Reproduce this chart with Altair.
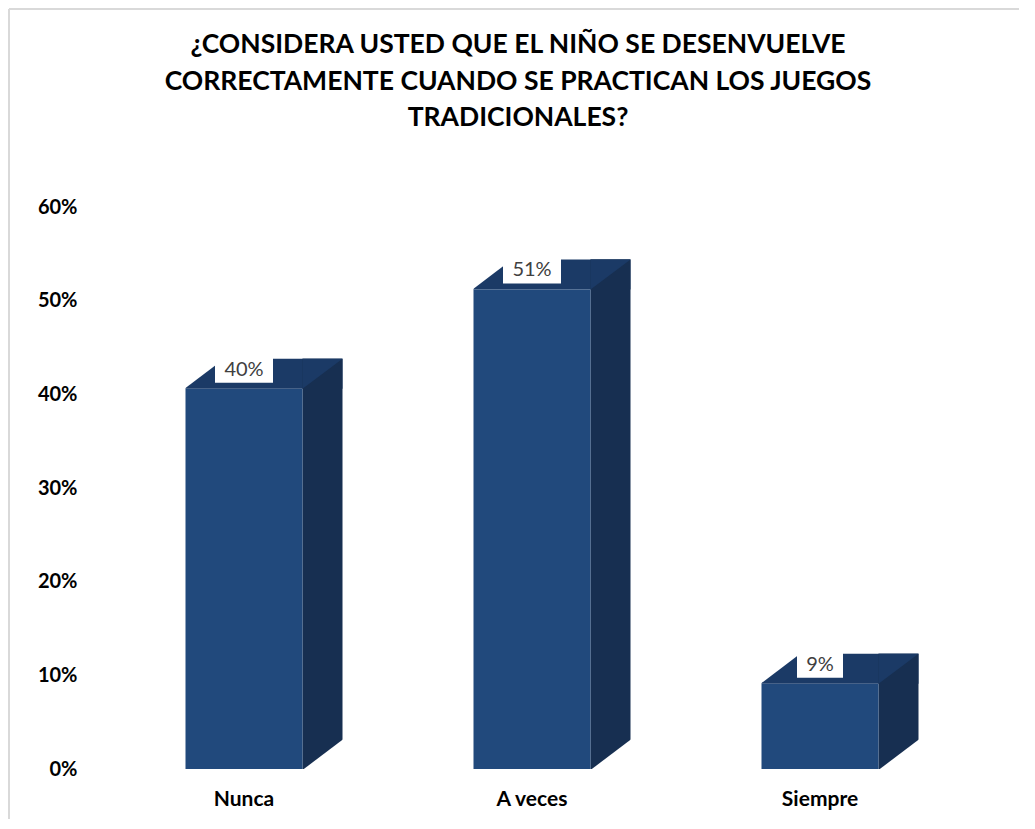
import altair as alt
import pandas as pd

# ---- data ----
categories = ["Nunca", "A veces", "Siempre"]
values = [0.406, 0.512, 0.091]
labels = ["40%", "51%", "9%"]
y_ticks = [0, 0.1, 0.2, 0.3, 0.4, 0.5, 0.6]
title_lines = [
    "¿CONSIDERA USTED QUE EL NIÑO SE DESENVUELVE",
    "CORRECTAMENTE CUANDO SE PRACTICAN LOS JUEGOS",
    "TRADICIONALES?",
]

df = pd.DataFrame({"cat": categories, "v": values, "label": labels})

# ---- style ----
FRONT = "#21497C"
TOP = "#1B3A66"
SIDE = "#172F51"
BAR_W = 117
DX = 40   # depth, horizontal px
DY = 30   # depth, vertical px
HW = BAR_W / 2
FONT = "Lato"

x_enc = alt.X(
    "cat:N", sort=categories,
    scale=alt.Scale(paddingInner=0, paddingOuter=0),
    axis=alt.Axis(title=None, labelAngle=0, labelFont=FONT, labelFontSize=21,
                  labelFontWeight="bold", labelColor="black", labelPadding=19,
                  domain=False, ticks=False, grid=False),
)
y_enc = alt.Y(
    "v:Q", scale=alt.Scale(domain=[0, 0.6], nice=False),
    axis=alt.Axis(title=None, values=y_ticks, format=".0%", labelFont=FONT,
                  labelFontSize=20, labelFontWeight="bold", labelColor="black",
                  labelPadding=23, domain=False, ticks=False, grid=False),
)

base = alt.Chart(df).encode(x=x_enc, y=y_enc)

# top face (rectangle part)
top_rect = base.mark_bar(color=TOP, width=BAR_W + DX, xOffset=DX / 2,
                         yOffset=-DY, y2Offset=0).encode(y2=alt.Y2("v:Q"))
# side face (rectangle part)
side_rect = base.mark_bar(color=SIDE, width=DX, xOffset=HW + DX / 2,
                          yOffset=-DY).encode(y2=alt.datum(0))
# front face
front = base.mark_bar(color=FRONT, width=BAR_W).encode(y2=alt.datum(0))

def tri(path, color):
    return base.mark_point(shape=path, size=4, filled=True, opacity=1,
                           strokeWidth=0, color=color)

# top-face triangle over the side rectangle
top_tri = tri(f"M{HW},{-DY} L{HW + DX},{-DY} L{HW},0 Z", TOP)
# white cut at the back-left corner of the top face
cut_tl = tri(f"M{-HW - 1},{-DY - 1} L{-HW + DX},{-DY - 1} L{-HW - 1},0 Z", "white")
# white cut at the bottom-right corner of the side face
cut_br = tri(f"M{HW},1 L{HW + DX + 1},{-DY} L{HW + DX + 1},1 Z", "white").encode(
    y=alt.datum(0))

# label boxes
box_long = base.transform_filter("length(datum.label) > 2").mark_bar(
    color="white", width=58, yOffset=-31, y2Offset=-6).encode(y2=alt.Y2("v:Q"))
box_short = base.transform_filter("length(datum.label) <= 2").mark_bar(
    color="white", width=46, yOffset=-31, y2Offset=-6).encode(y2=alt.Y2("v:Q"))
text = base.mark_text(font=FONT, fontSize=20, color="#404040", baseline="middle",
                      dy=-19).encode(text="label:N")

# chart title as a text block
title = alt.Chart(df.head(1)).mark_text(
    font=FONT, fontSize=26.5, fontWeight="bold", color="black",
    align="center", baseline="middle", lineHeight=36.5,
).encode(x=alt.value(418), y=alt.value(-162), text=alt.value(title_lines))

# chart border (top and left edges visible)
border_top = alt.Chart(df.head(1)).mark_rule(color="#D9D9D9", strokeWidth=2).encode(
    x=alt.value(-91), x2=alt.value(1000), y=alt.value(-198))
border_left = alt.Chart(df.head(1)).mark_rule(color="#D9D9D9", strokeWidth=2).encode(
    x=alt.value(-91), y=alt.value(-198), y2=alt.value(700))

chart = alt.layer(
    top_rect, side_rect, front, top_tri, cut_tl, cut_br,
    box_long, box_short, text, title, border_top, border_left,
).properties(
    width=864, height=562,
    autosize="none",
    padding={"left": 92, "top": 199, "right": 55, "bottom": 50},
    background="white",
).configure_view(stroke=None)

chart.save("out.html", embed_options={"renderer": "svg", "actions": False})
